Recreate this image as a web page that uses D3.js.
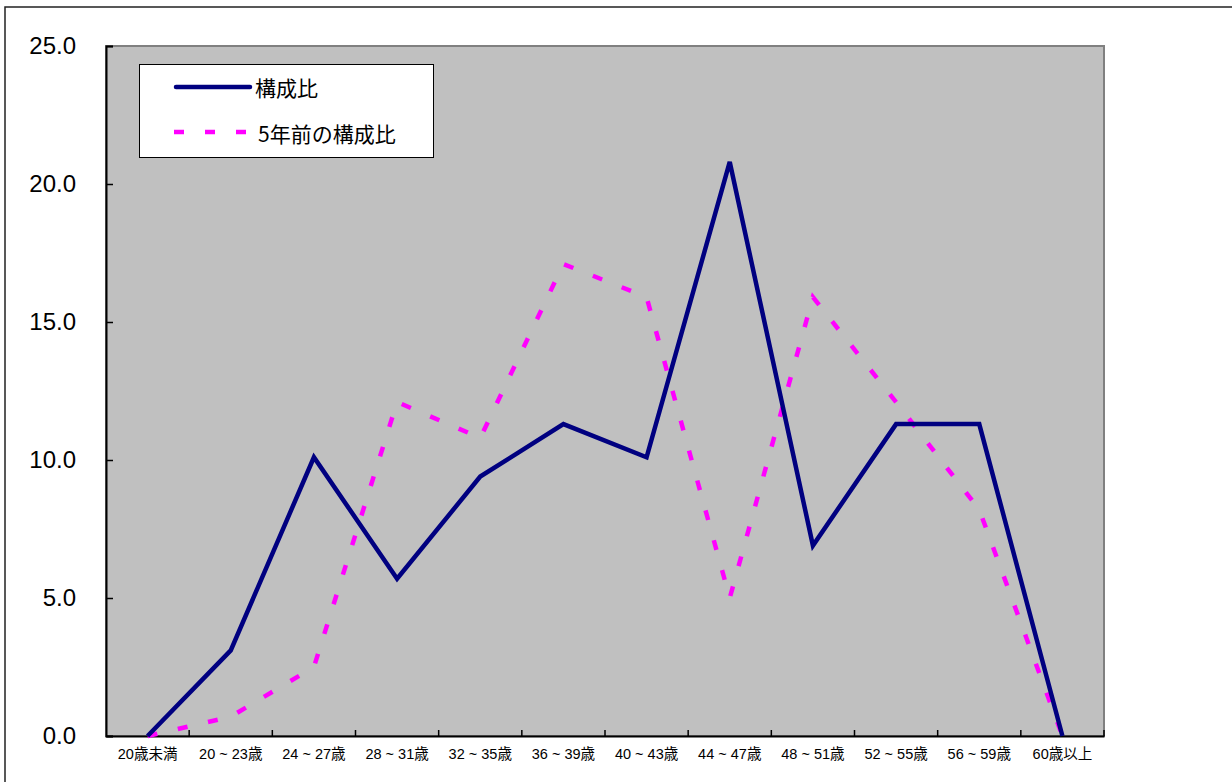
<!DOCTYPE html>
<html><head><meta charset="utf-8">
<script src="https://cdn.jsdelivr.net/npm/d3@7"></script>
<style>body{margin:0;background:#fff}svg{display:block}</style>
</head><body>
<script>
const categories = ["20歳未満","20 ~ 23歳","24 ~ 27歳","28 ~ 31歳","32 ~ 35歳","36 ~ 39歳","40 ~ 43歳","44 ~ 47歳","48 ~ 51歳","52 ~ 55歳","56 ~ 59歳","60歳以上"];
const current = [0.0, 3.1, 10.1, 5.7, 9.4, 11.3, 10.1, 20.8, 6.9, 11.3, 11.3, 0.0];
const previous = [0.0, 0.7, 2.5, 12.1, 10.8, 17.1, 15.9, 5.0, 15.9, 12.1, 8.2, 0.0];
const yTicks = [0, 5, 10, 15, 20, 25];
const seriesNames = ["構成比", "5年前の構成比"];

const W = 1232, H = 782;
const L = 106, R = 1104, T = 46, B = 736;
const font = "'Liberation Sans', Arial, 'Noto Sans CJK JP', sans-serif";

const svg = d3.select("body").append("svg").attr("width", W).attr("height", H);
svg.append("rect").attr("x", 5).attr("y", 7).attr("width", 1300).attr("height", 900)
  .attr("fill", "#fff").attr("stroke", "#222").attr("stroke-width", 1.5);

const x = d3.scaleBand().domain(categories).range([L, R]);
const y = d3.scaleLinear().domain([0, 25]).range([B, T]);

svg.append("rect").attr("x", L).attr("y", T).attr("width", R - L).attr("height", B - T)
  .attr("fill", "#c0c0c0").attr("stroke", "#808080").attr("stroke-width", 2);

// Y axis
const yAxis = svg.append("g").attr("transform", `translate(${L},0)`)
  .call(d3.axisLeft(y).tickValues(yTicks).tickSize(-7).tickPadding(30).tickFormat(d3.format(".1f")));
yAxis.select(".domain").attr("stroke", "#000").attr("stroke-width", 2);
yAxis.selectAll(".tick line").attr("stroke", "#000").attr("stroke-width", 1.5);
yAxis.selectAll("text").attr("font-family", font).attr("font-size", 24).attr("fill", "#000");

// X axis
const xAxis = svg.append("g").attr("transform", `translate(0,${B})`)
  .call(d3.axisBottom(x).tickSize(0).tickPadding(13));
xAxis.select(".domain").attr("stroke", "#000").attr("stroke-width", 2);
xAxis.selectAll("text").attr("font-family", font).attr("font-size", 14.5).attr("fill", "#000");
// category boundary ticks (inside)
const bounds = categories.slice(1).map(c => x(c)).concat([R]);
svg.append("g").selectAll("line").data(bounds).join("line")
  .attr("x1", d => d).attr("x2", d => d).attr("y1", B).attr("y2", B - 6)
  .attr("stroke", "#000").attr("stroke-width", 1.5);

const line = d3.line().x((d, i) => x(categories[i]) + x.bandwidth() / 2).y(d => y(d));

svg.append("path").datum(previous).attr("d", line).attr("fill", "none")
  .attr("stroke", "#ff00ff").attr("stroke-width", 4.5).attr("stroke-dasharray", "10,21");
svg.append("path").datum(current).attr("d", line).attr("fill", "none")
  .attr("stroke", "#000080").attr("stroke-width", 4.5).attr("stroke-linejoin", "miter");

// Legend
const lg = svg.append("g");
lg.append("rect").attr("x", 139.5).attr("y", 64.5).attr("width", 294).attr("height", 93)
  .attr("fill", "#fff").attr("stroke", "#000").attr("stroke-width", 1);
lg.append("line").attr("x1", 176).attr("x2", 250).attr("y1", 87).attr("y2", 87)
  .attr("stroke", "#000080").attr("stroke-width", 4.5).attr("stroke-linecap", "round");
lg.append("line").attr("x1", 174).attr("x2", 246).attr("y1", 132).attr("y2", 132)
  .attr("stroke", "#ff00ff").attr("stroke-width", 4.5).attr("stroke-dasharray", "10,21");
lg.append("text").attr("x", 255).attr("y", 88).attr("dy", "0.36em").text(seriesNames[0])
  .attr("font-family", "'Noto Sans CJK JP', sans-serif").attr("font-size", 21).attr("fill", "#000");
lg.append("text").attr("x", 258).attr("y", 134).attr("dy", "0.36em").text(seriesNames[1])
  .attr("font-family", "'Noto Sans CJK JP', sans-serif").attr("font-size", 21).attr("fill", "#000");
</script>
</body></html>
